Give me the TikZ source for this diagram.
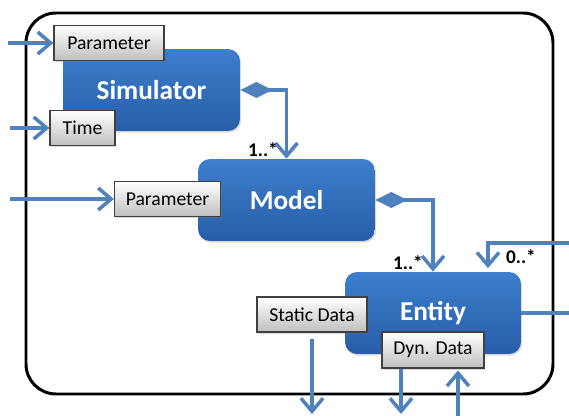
\documentclass[tikz,border=0pt]{standalone}
\usepackage{fontspec}
\setmainfont{Carlito}
\usetikzlibrary{arrows.meta, shadows}

\definecolor{connblue}{RGB}{79,129,189}
\definecolor{boxtop}{RGB}{60,127,204}
\definecolor{boxbot}{RGB}{40,93,168}

\begin{document}
\begin{tikzpicture}[x=0.02cm, y=-0.02cm,
    block/.style={rectangle, rounded corners=0.24cm, top color=boxtop, bottom color=boxbot,
        text=white, font=\fontsize{15.5}{18}\selectfont\bfseries,
        minimum width=3.54cm, minimum height=1.64cm,
        drop shadow={shadow xshift=0.6pt, shadow yshift=-0.9pt, opacity=0.3}},
    port/.style={rectangle, draw=black!75, line width=0.7pt, top color=white, bottom color=black!25,
        font=\fontsize{11.2}{13}\selectfont, minimum height=0.7cm, inner sep=2pt,
        drop shadow={shadow xshift=0.6pt, shadow yshift=-0.9pt, opacity=0.3}},
    mult/.style={font=\fontsize{11}{13}\selectfont\bfseries, inner sep=0pt},
    conn/.style={draw=connblue, line width=2pt},
    arr/.style={conn, -{Straight Barb[length=0.26cm, width=0.44cm]}},
    assoc/.style={conn, {Diamond[length=0.64cm, width=0.32cm]}-{Straight Barb[length=0.26cm, width=0.44cm]}}]
    \useasboundingbox (0,0) rectangle (569,416);

    % Frame
    \draw[line width=1.7pt, rounded corners=0.6cm] (26,13) rectangle (553,394);

    % Classes
    \node[block] (sim) at (151.5,90) {Simulator};
    \node[block] (model) at (286.5,200) {Model};
    \node[block, minimum width=3.52cm] (entity) at (433,313) {Entity};

    % Ports
    \node[port, minimum width=2.2cm] (simpar) at (109,43) {Parameter};
    \node[port, minimum width=1.3cm] (time) at (82.5,128) {Time};
    \node[port, minimum width=2.12cm] (modpar) at (167.5,199) {Parameter};
    \node[port, minimum width=2.2cm] (stat) at (312,314.5) {Static Data};
    \node[port, minimum width=2.04cm, minimum height=0.72cm] (dyn) at (433,350) {Dyn. Data};

    % Free ends
    \coordinate (inSP) at (8,43);
    \coordinate (inT) at (10,128);
    \coordinate (inMP) at (10,199);
    \coordinate (outS) at (312,414);
    \coordinate (outD) at (401,414);
    \coordinate (inD) at (458,416);
    \coordinate (outE) at (569,313);
    \coordinate (inE) at (569,243);

    % Inputs
    \draw[arr] (inSP) -- (simpar.west);
    \draw[arr] (inT) -- (time.west);
    \draw[arr] (inMP) -- (modpar.west);

    % Aggregations
    \draw[assoc] (sim.east) -| (model.north);
    \draw[assoc] (model.east) -| (entity.north);
    \node[mult] (m1) at (263,150) {1..*};
    \node[mult] (m2) at (408,263) {1..*};

    % Entity links
    \draw[conn] (entity.east) -- (outE);
    \draw[arr, shorten >=2pt] (inE) -| ([xshift=1.1cm]entity.north);
    \node[mult] (m3) at (521,257) {0..*};

    % Data flows
    \draw[arr] ([yshift=-0.12cm]stat.south) -- (outS);
    \draw[arr] (dyn.south -| outD) -- (outD);
    \draw[arr, shorten >=1pt] (inD) -- (inD |- dyn.south);
\end{tikzpicture}
\end{document}
